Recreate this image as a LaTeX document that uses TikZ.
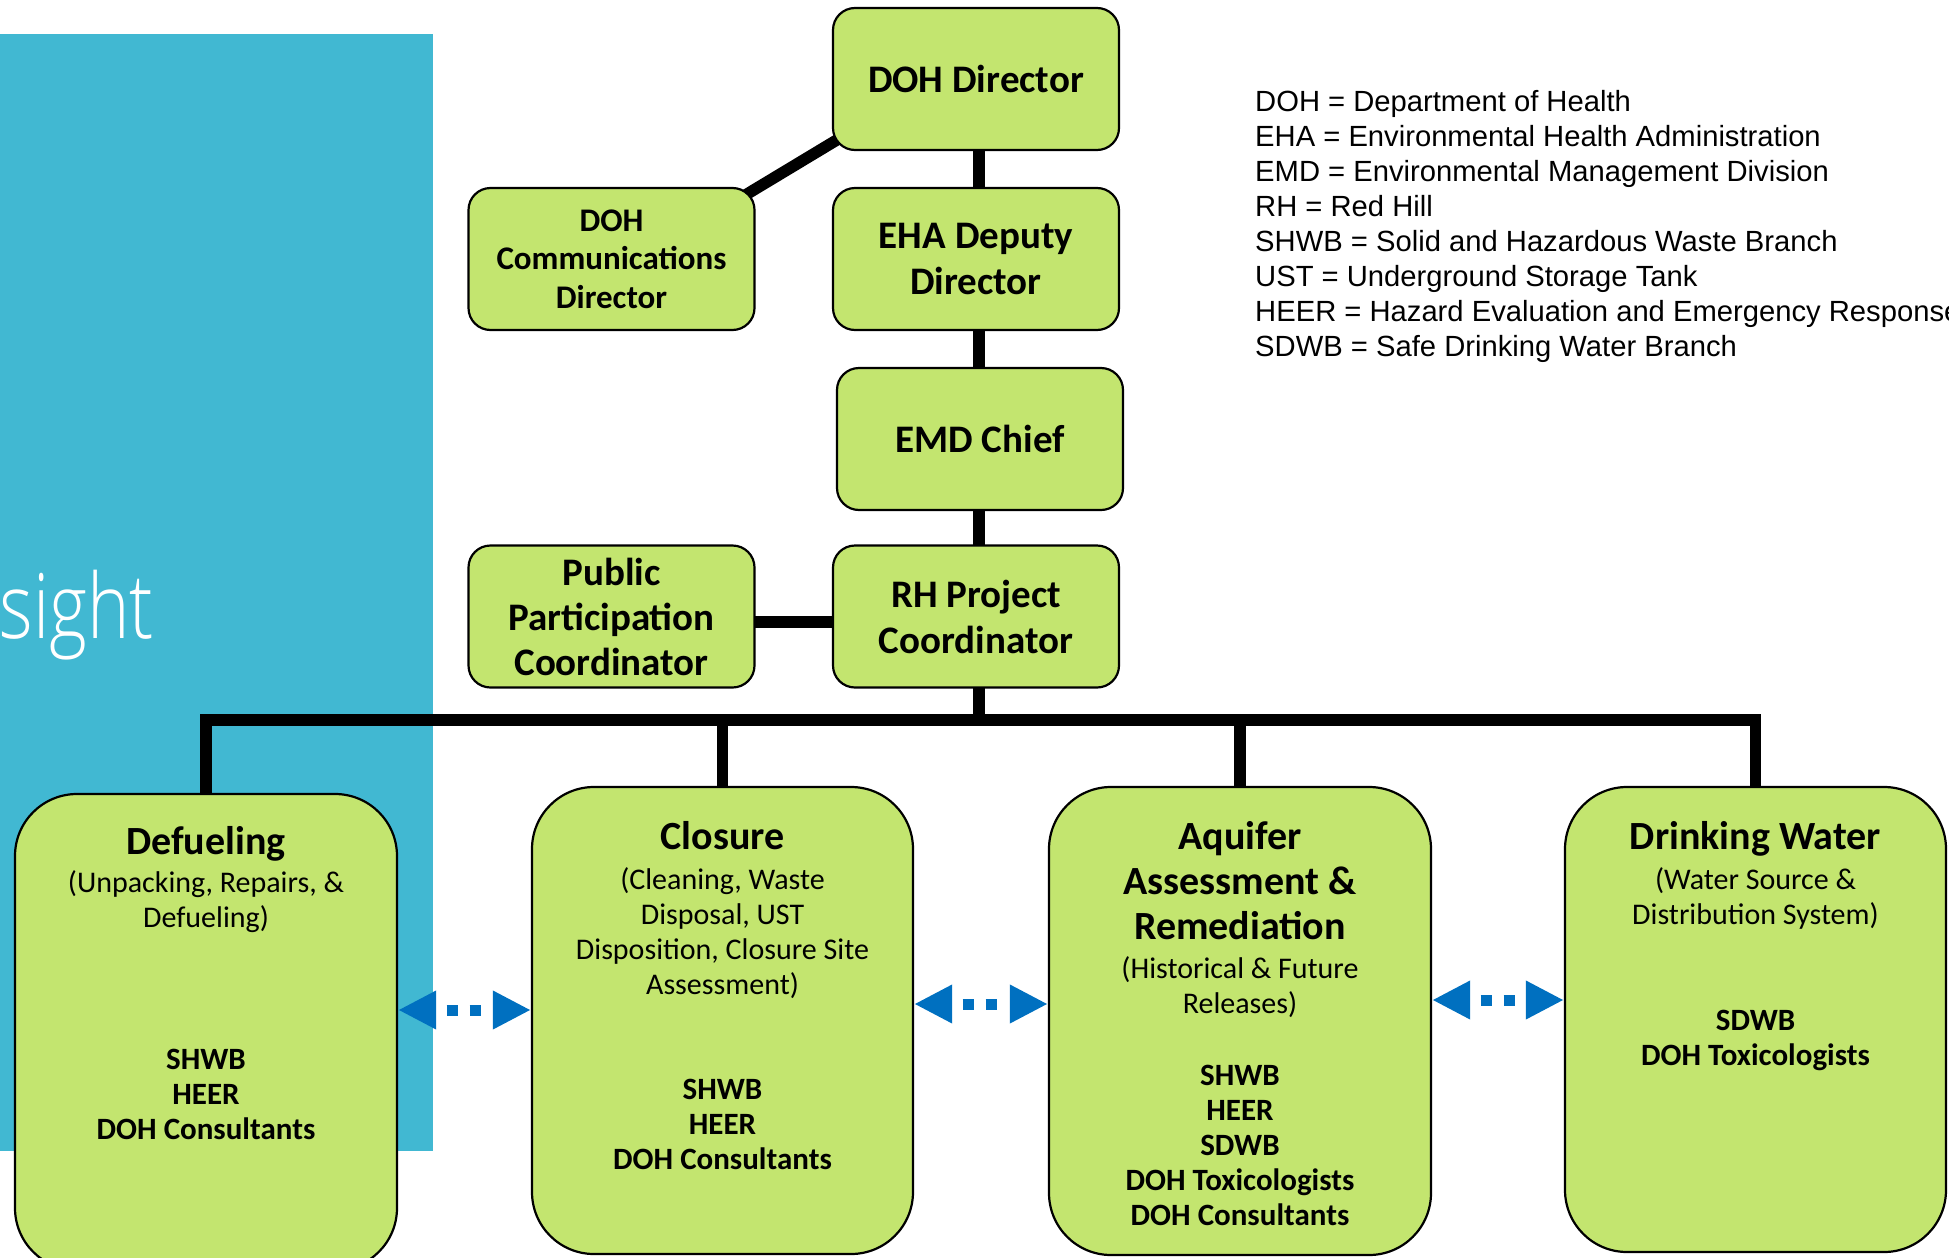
\documentclass[tikz,border=0pt]{standalone}
\usepackage{fontspec}
\setmainfont{Carlito}
\newfontfamily\legendfont{Liberation Sans}
\IfFontExistsTF{Open Sans Light}{\newfontfamily\sightfont{Open Sans Light}}{\newfontfamily\sightfont{Open Sans}}
\usetikzlibrary{arrows.meta,calc}
\definecolor{boxgreen}{RGB}{195,229,111}
\definecolor{panelblue}{RGB}{65,184,210}
\definecolor{arrowblue}{RGB}{0,112,192}
\pgfdeclarelayer{bg}
\pgfdeclarelayer{lines}
\pgfsetlayers{bg,lines,main}
\newcommand\mystack[1]{\begin{tabular}[t]{@{}c@{}}#1\end{tabular}}
\begin{document}
\begin{tikzpicture}[x=1pt,y=-1pt,
  gbox/.style={draw=black, fill=boxgreen, line width=2.2pt, inner sep=0pt, align=center},
  topbox/.style={gbox, rounded corners=22pt, minimum width=286pt, minimum height=142pt, font=\bfseries\fontsize{39}{46}\selectfont},
  bigbox/.style={gbox, rounded corners=62pt, minimum width=382pt},
  conn/.style={draw=black, line width=11.5pt, line join=miter},
  ttl/.style={anchor=base, inner sep=0pt, font=\bfseries\fontsize{40}{45}\selectfont},
  subt/.style={anchor=base, inner sep=0pt, font=\fontsize{30}{35}\selectfont},
  bodyt/.style={anchor=base, inner sep=0pt, font=\bfseries\fontsize{31}{35}\selectfont},
  duallink/.style={draw=arrowblue, line width=11pt, dash pattern=on 0pt off 13pt on 11pt off 12pt on 11pt off 60pt, {Triangle[length=38pt,width=36pt]}-{Triangle[length=38pt,width=36pt]}}
]
\useasboundingbox (0,0) rectangle (1949,1258);

% background panel
\begin{pgfonlayer}{bg}
\fill[panelblue] (-2,34) rectangle (433,1151);
\node[anchor=base east, inner sep=0pt, text=white, font=\sightfont\fontsize{90}{90}\selectfont] (sight) at (154,638) {\scalebox{0.8}[1]{sight}};
\end{pgfonlayer}

% upper boxes
\node[topbox] (dohdir) at (976,79) {DOH Director};
\node[topbox, font=\bfseries\fontsize{33}{38.5}\selectfont] (comm) at (611.5,259) {DOH\\Communications\\Director};
\node[topbox] (eha) at (976,259) {EHA Deputy\\Director};
\node[topbox] (emd) at (980,439) {EMD Chief};
\node[topbox, font=\bfseries\fontsize{39}{45}\selectfont] (pp) at (611.5,616.5) {Public\\Participation\\Coordinator};
\node[topbox] (rh) at (976,616.5) {RH Project\\Coordinator};

% lower boxes
\node[bigbox, minimum height=476pt] (defuel) at (206,1032) {};
\node[bigbox, minimum width=381pt, minimum height=467pt] (closure) at (722.5,1020.5) {};
\node[bigbox, minimum height=468pt] (aquifer) at (1240,1021) {};
\node[bigbox, minimum width=381pt, minimum height=465pt] (drink) at (1755.5,1019.5) {};

% connectors
\coordinate (bus) at (0,720);
\coordinate (spine) at (979,0);
\coordinate (ppline) at (0,622);
\begin{pgfonlayer}{lines}
\draw[conn] (defuel.north) |- (drink.north |- bus) -- (drink.north);
\draw[conn] (closure.north) -- (closure.north |- bus);
\draw[conn] (aquifer.north) -- (aquifer.north |- bus);
\draw[conn] (dohdir -| spine) -- (spine |- bus);
\draw[conn] (pp.center |- ppline) -- (rh.center |- ppline);
\draw[conn] ($(dohdir.south west)+(13,-16)$) -- ($(comm.north east)+(-10,8)$);
\end{pgfonlayer}

% dotted double arrows
\coordinate (a1) at (0,1010);
\coordinate (a2) at (0,1004);
\coordinate (a3) at (0,1000);
\draw[duallink] (defuel.east |- a1) -- (closure.west |- a1);
\draw[duallink] (closure.east |- a2) -- (aquifer.west |- a2);
\draw[duallink] (aquifer.east |- a3) -- (drink.west |- a3);

% texts of lower boxes
\node[ttl] (dtitle) at (206,854) {Defueling};
\node[subt] (dsub) at (206,892) {\mystack{(Unpacking, Repairs, \&\\Defueling)}};
\node[bodyt] (dbody) at (206,1069) {\mystack{SHWB\\HEER\\DOH Consultants}};

\node[ttl] (ctitle) at (722.5,849) {Closure};
\node[subt] (csub) at (722.5,889) {\mystack{(Cleaning, Waste\\Disposal, UST\\Disposition, Closure Site\\Assessment)}};
\node[bodyt] (cbody) at (722.5,1099) {\mystack{SHWB\\HEER\\DOH Consultants}};

\node[ttl] (atitle) at (1240,849) {\mystack{Aquifer\\Assessment \&\\Remediation}};
\node[subt] (asub) at (1240,978) {\mystack{(Historical \& Future\\Releases)}};
\node[bodyt] (abody) at (1240,1085) {\mystack{SHWB\\HEER\\SDWB\\DOH Toxicologists\\DOH Consultants}};

\node[ttl] (wtitle) at (1755.5,849) {Drinking Water};
\node[subt] (wsub) at (1755.5,889) {\mystack{(Water Source \&\\Distribution System)}};
\node[bodyt] (wbody) at (1755.5,1030) {\mystack{SDWB\\DOH Toxicologists}};

% legend
\node[anchor=base west, inner sep=0pt, font=\legendfont\fontsize{29.2}{35}\selectfont] (legend) at (1255,111) {\begin{tabular}[t]{@{}l@{}}
DOH = Department of Health\\
EHA = Environmental Health Administration\\
EMD = Environmental Management Division\\
RH = Red Hill\\
SHWB = Solid and Hazardous Waste Branch\\
UST = Underground Storage Tank\\
HEER = Hazard Evaluation and Emergency Response\\
SDWB = Safe Drinking Water Branch
\end{tabular}};
\end{tikzpicture}
\end{document}
